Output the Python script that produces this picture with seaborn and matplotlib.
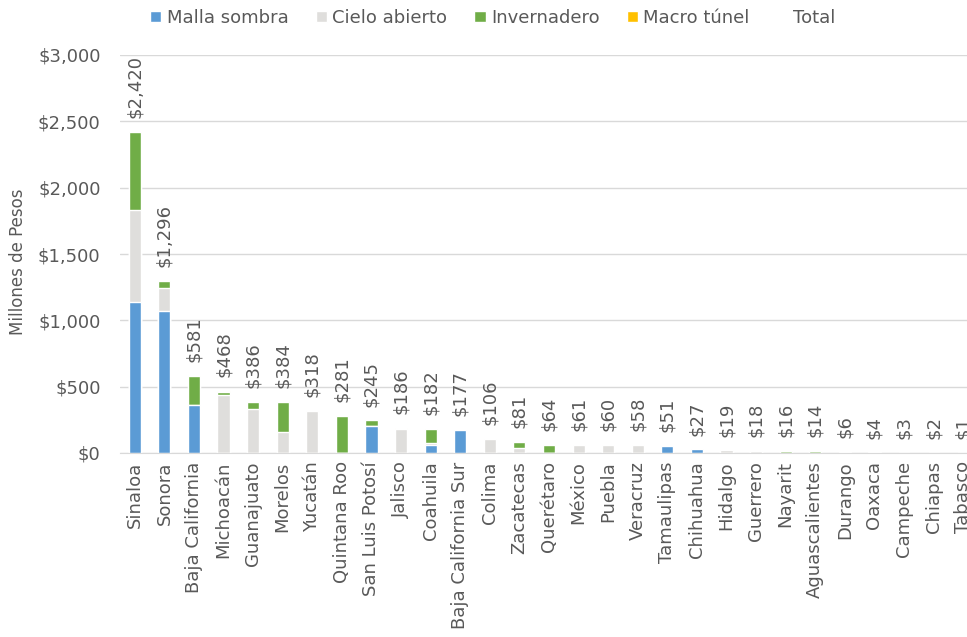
import numpy as np
import pandas as pd
import matplotlib
matplotlib.use('Agg')
import matplotlib.pyplot as plt
import seaborn as sns
from matplotlib.patches import Patch
from matplotlib.ticker import FuncFormatter

sns.set_style('white')
plt.rcParams['font.family'] = ['DejaVu Sans']

# datos (millones de pesos)
estados = ['Sinaloa', 'Sonora', 'Baja California', 'Michoacán', 'Guanajuato', 'Morelos',
           'Yucatán', 'Quintana Roo', 'San Luis Potosí', 'Jalisco', 'Coahuila',
           'Baja California Sur', 'Colima', 'Zacatecas', 'Querétaro', 'México', 'Puebla',
           'Veracruz', 'Tamaulipas', 'Chihuahua', 'Hidalgo', 'Guerrero', 'Nayarit',
           'Aguascalientes', 'Durango', 'Oaxaca', 'Campeche', 'Chiapas', 'Tabasco']
malla_sombra = [1140, 1072, 359, 0, 0, 0, 0, 0, 206, 0, 60, 177, 0, 0, 0, 0, 0, 0, 51, 27,
                0, 0, 0, 0, 0, 0, 0, 0, 0]
cielo_abierto = [693, 169, 0, 435, 329, 158, 318, 0, 0, 180, 13, 0, 106, 35, 0, 61, 57, 58, 0, 0,
                 19, 18, 0, 0, 6, 4, 3, 2, 1]
invernadero = [587, 55, 222, 23, 57, 226, 0, 281, 39, 0, 109, 0, 0, 46, 64, 0, 3, 0, 0, 0,
               0, 0, 16, 14, 0, 0, 0, 0, 0]
macro_tunel = [0, 0, 0, 10, 0, 0, 0, 0, 0, 6, 0, 0, 0, 0, 0, 0, 0, 0, 0, 0,
               0, 0, 0, 0, 0, 0, 0, 0, 0]
totales = [2420, 1296, 581, 468, 386, 384, 318, 281, 245, 186, 182, 177, 106, 81, 64, 61, 60,
           58, 51, 27, 19, 18, 16, 14, 6, 4, 3, 2, 1]

series = ['Malla sombra', 'Cielo abierto', 'Invernadero', 'Macro túnel']
colores = ['#5b9bd5', '#dfdedc', '#70ad47', '#ffc000']
gris = '#595959'

df = pd.DataFrame({'Estado': estados, 'Malla sombra': malla_sombra,
                   'Cielo abierto': cielo_abierto, 'Invernadero': invernadero,
                   'Macro túnel': macro_tunel})
acum = df[series].cumsum(axis=1)
acum['Estado'] = df['Estado']

fig = plt.figure(figsize=(9.67, 6.37), dpi=100)
# el eje sigue mas alla del borde derecho (Tabasco queda cortado)
ax = fig.add_axes([120 / 967, 184 / 637, 858 / 967, 398 / 637])

# barras apiladas: se dibuja de la capa superior a la inferior
for serie, color in zip(series[::-1], colores[::-1]):
    sns.barplot(data=acum, x='Estado', y=serie, color=color, width=0.41,
                saturation=1, ax=ax, order=estados)

for i, t in enumerate(totales):
    ax.annotate(f'${t:,}', (i, t), xytext=(0, 10), textcoords='offset points',
                rotation=90, ha='center', va='bottom', fontsize=13, color=gris)

ax.set_ylim(0, 3000)
ax.set_xlim(-0.5, len(estados) - 0.5)
ax.set_yticks(np.arange(0, 3001, 500))
ax.yaxis.set_major_formatter(FuncFormatter(lambda v, p: f'${v:,.0f}'))
ax.grid(axis='y', color='#d9d9d9', linewidth=1)
ax.set_axisbelow(True)
for s in ['top', 'right', 'left']:
    ax.spines[s].set_visible(False)
ax.spines['bottom'].set_color('#d9d9d9')
ax.tick_params(axis='y', labelsize=13, colors=gris, length=0, pad=14)
ax.tick_params(axis='x', labelsize=13, colors=gris, length=0, pad=6)
ax.set_xticks(range(len(estados)))
ax.set_xticklabels(estados, rotation=90)
ax.set_xlabel('')
ax.set_ylabel('')
fig.text(18 / 967, 1 - 262 / 637, 'Millones de Pesos', rotation=90, ha='center',
         va='center', fontsize=12, color=gris)

handles = [Patch(facecolor=c, label=s) for s, c in zip(series, colores)]
handles.append(Patch(facecolor='none', edgecolor='none', label='Total'))
fig.legend(handles=handles, loc='center', bbox_to_anchor=(493 / 967, 1 - 18 / 637),
           ncol=5, frameon=False, fontsize=13, labelcolor=gris, handlelength=0.62,
           handleheight=0.62, handletextpad=0.3, columnspacing=1.5, borderpad=0)

fig.savefig('out.png', dpi=100)
